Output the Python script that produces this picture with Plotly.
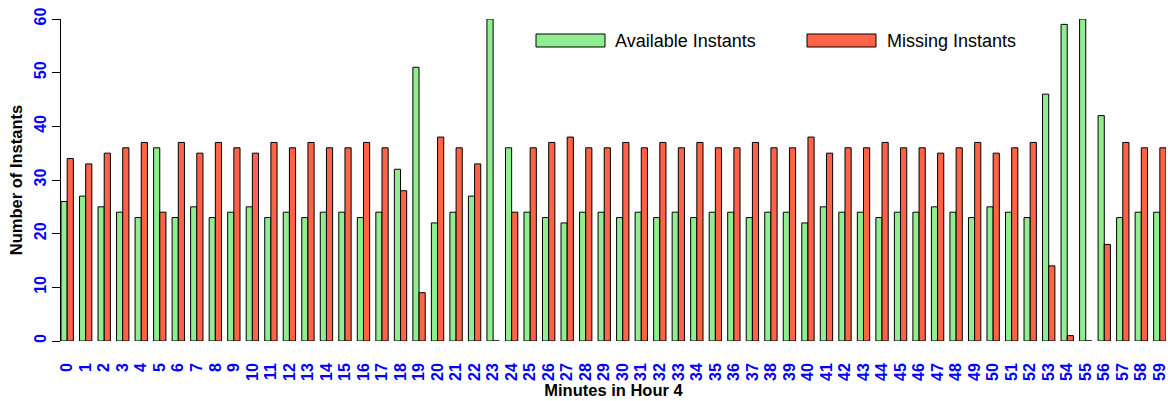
import plotly.graph_objects as go

minutes = list(range(60))
tick_labels = [str(m) for m in minutes]
available = [26, 27, 25, 24, 23, 36, 23, 25, 23, 24, 25, 23, 24, 23, 24, 24, 23, 24, 32, 51,
             22, 24, 27, 60, 36, 24, 23, 22, 24, 24, 23, 24, 23, 24, 23, 24, 24, 23, 24, 24,
             22, 25, 24, 24, 23, 24, 24, 25, 24, 23, 25, 24, 23, 46, 59, 60, 42, 23, 24, 24]
missing = [34, 33, 35, 36, 37, 24, 37, 35, 37, 36, 35, 37, 36, 37, 36, 36, 37, 36, 28, 9,
           38, 36, 33, 0, 24, 36, 37, 38, 36, 36, 37, 36, 37, 36, 37, 36, 36, 37, 36, 36,
           38, 35, 36, 36, 37, 36, 36, 35, 36, 37, 35, 36, 37, 14, 1, 0, 18, 37, 36, 36]
series_names = ["Available Instants", "Missing Instants"]
colors = ["#90EE90", "#FF6347"]

W, H = 1168, 401
ml, mr, mt, mb = 61, 2, 19, 60

fig = go.Figure()
for name, vals, col in zip(series_names, [available, missing], colors):
    fig.add_trace(go.Bar(x=minutes, y=vals, name=name, marker=dict(color=col, line=dict(color="black", width=1)),
                         showlegend=False))

# custom legend (wide swatches like the original)
pw = W - ml - mr
ph = H - mt - mb
def px(x):
    return (x - ml) / pw
def py(y):
    return 1 - (y - mt) / ph
legend_items = [(536, 605, 613), (807, 876, 885)]
for (x0, x1, tx), name, col in zip(legend_items, series_names, colors):
    fig.add_shape(type="rect", xref="paper", yref="paper", x0=px(x0), x1=px(x1), y0=py(47), y1=py(34),
                  fillcolor=col, line=dict(color="black", width=1))
    fig.add_annotation(xref="paper", yref="paper", x=px(tx), y=py(41), text=name, showarrow=False,
                       xanchor="left", yanchor="middle", font=dict(size=18, color="black", family="Liberation Sans, Arial"))

fig.update_layout(
    width=W, height=H,
    margin=dict(l=ml, r=mr, t=mt, b=mb, autoexpand=False),
    plot_bgcolor="white", paper_bgcolor="white",
    barmode="group", bargap=1/3, bargroupgap=0,
    font=dict(family="Liberation Sans, Arial", color="black"),
)
fig.update_xaxes(
    range=[-1/3, 59 + 1/3], tickmode="array", tickvals=minutes, ticktext=tick_labels,
    tickangle=-90, tickfont=dict(size=16, color="blue", family="Liberation Sans, Arial", weight="bold"),
    ticks="", ticklabelstandoff=18, ticklabeloverflow="allow",
    showline=False, showgrid=False, zeroline=False, automargin=False,
    title=dict(text="<b>Minutes in Hour 4</b>", font=dict(size=16.5), standoff=0),
)
fig.update_yaxes(
    range=[0, 60], tickmode="array", tickvals=[0, 10, 20, 30, 40, 50, 60],
    tickangle=-90, tickfont=dict(size=16, color="blue", family="Liberation Sans, Arial", weight="bold"),
    ticks="outside", ticklen=8, tickcolor="black", showline=True, linecolor="black", linewidth=1,
    showgrid=False, zeroline=False, automargin=False,
    title=dict(text="<b>Number of Instants</b>", font=dict(size=16.5), standoff=4),
)
fig.write_html("out.html", config={"displayModeBar": False},
               post_script="document.body.style.margin='0';document.body.style.overflow='hidden';")
